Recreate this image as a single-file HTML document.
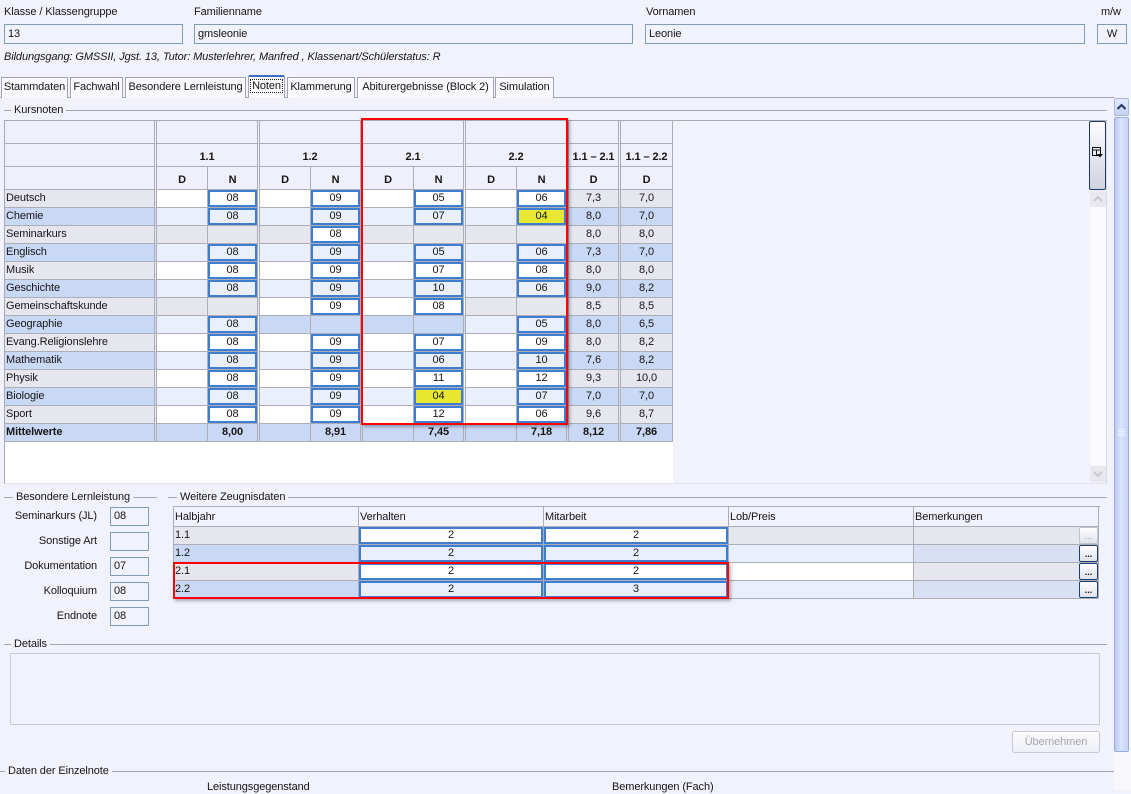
<!DOCTYPE html>
<html><head><meta charset="utf-8"><style>
*{box-sizing:border-box}
body{margin:0;width:1131px;height:790px;overflow:hidden;background:#f1f2fc;font-family:"Liberation Sans",sans-serif;font-size:11px;color:#161616;position:relative;letter-spacing:-0.1px}
.a{position:absolute;white-space:nowrap;line-height:14px}
.inp{position:absolute;border:1px solid #7f9db9;background:#f1f2fc;height:20px;line-height:18px;padding-left:3px;white-space:nowrap}
.tab{position:absolute;top:77px;height:21px;border:1px solid #a2a2b6;border-bottom:none;background:#f8f8fe;line-height:18px;text-align:center;box-shadow:inset 1px 1px 0 #fff;white-space:nowrap}
.hl{position:absolute;height:1px;background:#a4a4b4}
.gl{position:absolute;background:#f1f2fc;padding:0 3px;line-height:14px;white-space:nowrap}
.t{position:absolute;left:5px;top:121px;width:668px}
.hr{display:flex;height:23px}
.r{display:flex;height:18px}
.c{flex:none;height:100%;border-right:1px solid #adadb8;border-bottom:1px solid #adadb8;text-align:center;line-height:17px;white-space:nowrap;background:#eff0fb}
.hr .c{line-height:27px;font-weight:bold}
.d2{border-right:3px double #adadb8}
.n0{width:152px;text-align:left;padding-left:1px}
.D{width:51px}.N{width:52px}.G{width:103px}.A{width:52px}
.g{background:#e6e6ee}.b{background:#c9d9f5}.w{background:#fff}.l{background:#e9effd}
.x{display:block;height:17px;border:2px solid #3d7dd2;line-height:13px;text-align:center}
.y{background:#e8e832}
.mw .c{font-weight:bold;background:#c9d9f5}
.wz{position:absolute;left:173px;top:506px;border-left:1px solid #adadb8;width:927px}
.wr{display:flex;height:18px}
.wh{display:flex;height:21px;border-top:1px solid #adadb8}
.wc{flex:none;width:185px;height:100%;border-right:1px solid #adadb8;border-bottom:1px solid #adadb8;line-height:17px;padding-left:1px;position:relative;white-space:nowrap}
.wh .wc{line-height:20px}
.wb{display:block;height:17px;border:2px solid #3d7dd2;line-height:13px;text-align:center;margin-left:-1px}
.dots{position:absolute;right:0;top:0;width:19px;height:17px;border:1px solid #1f3d6e;border-radius:2px;background:linear-gradient(#ffffff,#dfe2ec);font-size:9px;line-height:16px;text-align:center;font-weight:bold;letter-spacing:0}
.dis{border-color:#c2c2cc;color:#a0a0a8;font-weight:normal}
</style></head><body>

<!-- top fields -->
<div class="a" style="left:4px;top:5px">Klasse / Klassengruppe</div>
<div class="inp" style="left:4px;top:24px;width:179px">13</div>
<div class="a" style="left:194px;top:5px">Familienname</div>
<div class="inp" style="left:194px;top:24px;width:439px">gmsleonie</div>
<div class="a" style="left:646px;top:5px">Vornamen</div>
<div class="inp" style="left:645px;top:24px;width:440px">Leonie</div>
<div class="a" style="left:1101px;top:5px">m/w</div>
<div class="inp" style="left:1097px;top:24px;width:30px;text-align:center;padding-left:0">W</div>
<div class="a" style="left:4px;top:50px;font-style:italic">Bildungsgang: GMSSII, Jgst. 13, Tutor: Musterlehrer, Manfred , Klassenart/Schülerstatus: R</div>

<!-- tabs -->
<div class="hl" style="left:0;top:97px;width:1114px"></div>
<div class="tab" style="left:1px;width:67px">Stammdaten</div>
<div class="tab" style="left:70px;width:53px">Fachwahl</div>
<div class="tab" style="left:125px;width:121px">Besondere Lernleistung</div>
<div class="tab" style="left:248px;width:37px;top:75px;height:23px;border-top:2px solid #3c6cc4;border-radius:2px 2px 0 0;background:#fbfbff;line-height:18px"><span style="outline:1px dotted #222;padding:0 1px">Noten</span></div>
<div class="tab" style="left:287px;width:68px">Klammerung</div>
<div class="tab" style="left:357px;width:137px">Abiturergebnisse (Block 2)</div>
<div class="tab" style="left:495px;width:59px">Simulation</div>

<!-- Kursnoten group -->
<div class="hl" style="left:4px;top:110px;width:1103px"></div>
<div class="gl" style="left:11px;top:103px">Kursnoten</div>

<!-- grid container -->
<div style="position:absolute;left:4px;top:120px;width:1103px;height:364px;border-top:1px solid #a8a8b6;border-left:1px solid #a8a8b6;border-right:1px solid #dcdce8;border-bottom:1px solid #e4e4f0;background:#f1f2fc"></div>
<div style="position:absolute;left:5px;top:121px;width:668px;height:362px;background:#fff"></div>

<div class="t">
 <div class="hr"><div class="c n0 d2"></div><div class="c G d2"></div><div class="c G d2"></div><div class="c G d2"></div><div class="c G d2"></div><div class="c A d2"></div><div class="c A"></div></div>
 <div class="hr"><div class="c n0 d2"></div><div class="c G d2">1.1</div><div class="c G d2">1.2</div><div class="c G d2">2.1</div><div class="c G d2">2.2</div><div class="c A d2">1.1 – 2.1</div><div class="c A">1.1 – 2.2</div></div>
 <div class="hr"><div class="c n0 d2"></div><div class="c D">D</div><div class="c N d2">N</div><div class="c D">D</div><div class="c N d2">N</div><div class="c D">D</div><div class="c N d2">N</div><div class="c D">D</div><div class="c N d2">N</div><div class="c A d2">D</div><div class="c A">D</div></div>

 <div class="r"><div class="c n0 d2 g">Deutsch</div><div class="c D w"></div><div class="c N d2 w"><span class="x w">08</span></div><div class="c D w"></div><div class="c N d2 w"><span class="x w">09</span></div><div class="c D w"></div><div class="c N d2 w"><span class="x w">05</span></div><div class="c D w"></div><div class="c N d2 w"><span class="x w">06</span></div><div class="c A d2 g">7,3</div><div class="c A g">7,0</div></div>
 <div class="r"><div class="c n0 d2 b">Chemie</div><div class="c D l"></div><div class="c N d2 l"><span class="x l">08</span></div><div class="c D l"></div><div class="c N d2 l"><span class="x l">09</span></div><div class="c D l"></div><div class="c N d2 l"><span class="x l">07</span></div><div class="c D l"></div><div class="c N d2 l"><span class="x y">04</span></div><div class="c A d2 b">8,0</div><div class="c A b">7,0</div></div>
 <div class="r"><div class="c n0 d2 g">Seminarkurs</div><div class="c D g"></div><div class="c N d2 g"></div><div class="c D g"></div><div class="c N d2 w"><span class="x w">08</span></div><div class="c D g"></div><div class="c N d2 g"></div><div class="c D g"></div><div class="c N d2 g"></div><div class="c A d2 g">8,0</div><div class="c A g">8,0</div></div>
 <div class="r"><div class="c n0 d2 b">Englisch</div><div class="c D l"></div><div class="c N d2 l"><span class="x l">08</span></div><div class="c D l"></div><div class="c N d2 l"><span class="x l">09</span></div><div class="c D l"></div><div class="c N d2 l"><span class="x l">05</span></div><div class="c D l"></div><div class="c N d2 l"><span class="x l">06</span></div><div class="c A d2 b">7,3</div><div class="c A b">7,0</div></div>
 <div class="r"><div class="c n0 d2 g">Musik</div><div class="c D w"></div><div class="c N d2 w"><span class="x w">08</span></div><div class="c D w"></div><div class="c N d2 w"><span class="x w">09</span></div><div class="c D w"></div><div class="c N d2 w"><span class="x w">07</span></div><div class="c D w"></div><div class="c N d2 w"><span class="x w">08</span></div><div class="c A d2 g">8,0</div><div class="c A g">8,0</div></div>
 <div class="r"><div class="c n0 d2 b">Geschichte</div><div class="c D l"></div><div class="c N d2 l"><span class="x l">08</span></div><div class="c D l"></div><div class="c N d2 l"><span class="x l">09</span></div><div class="c D l"></div><div class="c N d2 l"><span class="x l">10</span></div><div class="c D l"></div><div class="c N d2 l"><span class="x l">06</span></div><div class="c A d2 b">9,0</div><div class="c A b">8,2</div></div>
 <div class="r"><div class="c n0 d2 g">Gemeinschaftskunde</div><div class="c D g"></div><div class="c N d2 g"></div><div class="c D w"></div><div class="c N d2 w"><span class="x w">09</span></div><div class="c D w"></div><div class="c N d2 w"><span class="x w">08</span></div><div class="c D g"></div><div class="c N d2 g"></div><div class="c A d2 g">8,5</div><div class="c A g">8,5</div></div>
 <div class="r"><div class="c n0 d2 b">Geographie</div><div class="c D l"></div><div class="c N d2 l"><span class="x l">08</span></div><div class="c D b"></div><div class="c N d2 b"></div><div class="c D b"></div><div class="c N d2 b"></div><div class="c D l"></div><div class="c N d2 l"><span class="x l">05</span></div><div class="c A d2 b">8,0</div><div class="c A b">6,5</div></div>
 <div class="r"><div class="c n0 d2 g">Evang.Religionslehre</div><div class="c D w"></div><div class="c N d2 w"><span class="x w">08</span></div><div class="c D w"></div><div class="c N d2 w"><span class="x w">09</span></div><div class="c D w"></div><div class="c N d2 w"><span class="x w">07</span></div><div class="c D w"></div><div class="c N d2 w"><span class="x w">09</span></div><div class="c A d2 g">8,0</div><div class="c A g">8,2</div></div>
 <div class="r"><div class="c n0 d2 b">Mathematik</div><div class="c D l"></div><div class="c N d2 l"><span class="x l">08</span></div><div class="c D l"></div><div class="c N d2 l"><span class="x l">09</span></div><div class="c D l"></div><div class="c N d2 l"><span class="x l">06</span></div><div class="c D l"></div><div class="c N d2 l"><span class="x l">10</span></div><div class="c A d2 b">7,6</div><div class="c A b">8,2</div></div>
 <div class="r"><div class="c n0 d2 g">Physik</div><div class="c D w"></div><div class="c N d2 w"><span class="x w">08</span></div><div class="c D w"></div><div class="c N d2 w"><span class="x w">09</span></div><div class="c D w"></div><div class="c N d2 w"><span class="x w">11</span></div><div class="c D w"></div><div class="c N d2 w"><span class="x w">12</span></div><div class="c A d2 g">9,3</div><div class="c A g">10,0</div></div>
 <div class="r"><div class="c n0 d2 b">Biologie</div><div class="c D l"></div><div class="c N d2 l"><span class="x l">08</span></div><div class="c D l"></div><div class="c N d2 l"><span class="x l">09</span></div><div class="c D l"></div><div class="c N d2 l"><span class="x y">04</span></div><div class="c D l"></div><div class="c N d2 l"><span class="x l">07</span></div><div class="c A d2 b">7,0</div><div class="c A b">7,0</div></div>
 <div class="r"><div class="c n0 d2 g">Sport</div><div class="c D w"></div><div class="c N d2 w"><span class="x w">08</span></div><div class="c D w"></div><div class="c N d2 w"><span class="x w">09</span></div><div class="c D w"></div><div class="c N d2 w"><span class="x w">12</span></div><div class="c D w"></div><div class="c N d2 w"><span class="x w">06</span></div><div class="c A d2 g">9,6</div><div class="c A g">8,7</div></div>
 <div class="r mw"><div class="c n0 d2">Mittelwerte</div><div class="c D"></div><div class="c N d2">8,00</div><div class="c D"></div><div class="c N d2">8,91</div><div class="c D"></div><div class="c N d2">7,45</div><div class="c D"></div><div class="c N d2">7,18</div><div class="c A d2">8,12</div><div class="c A">7,86</div></div>
</div>

<!-- red rect 1 -->
<div style="position:absolute;left:361px;top:118px;width:207px;height:307px;border:2px solid #f00;box-shadow:2px 2px 3px rgba(0,0,0,.3)"></div>

<!-- inner scrollbar -->
<div style="position:absolute;left:1089px;top:121px;width:17px;height:69px;border:1px solid #1c3a68;border-radius:2px;background:linear-gradient(#fcfcff,#cfd3e0)"></div>
<svg style="position:absolute;left:1092px;top:147px" width="11" height="11" viewBox="0 0 11 11"><rect x="0.5" y="0.5" width="8" height="8" fill="none" stroke="#111"/><line x1="0.5" y1="3" x2="8.5" y2="3" stroke="#111"/><line x1="4.5" y1="3" x2="4.5" y2="8.5" stroke="#111"/><path d="M5 7 L11 7 L8 10.5 Z" fill="#111"/></svg>
<div style="position:absolute;left:1090px;top:191px;width:16px;height:16px;background:#e8e8ee"></div>
<svg style="position:absolute;left:1093px;top:195px" width="10" height="8"><path d="M1 6 L5 2 L9 6" fill="none" stroke="#c8c8d0" stroke-width="2"/></svg>
<div style="position:absolute;left:1090px;top:207px;width:16px;height:259px;background:#fafafe"></div>
<div style="position:absolute;left:1090px;top:466px;width:16px;height:16px;background:#e8e8ee"></div>
<svg style="position:absolute;left:1093px;top:470px" width="10" height="8"><path d="M1 2 L5 6 L9 2" fill="none" stroke="#c8c8d0" stroke-width="2"/></svg>

<!-- outer scrollbar -->
<div style="position:absolute;left:1114px;top:98px;width:17px;height:692px;background:#f8f8fc"></div>
<div style="position:absolute;left:1114px;top:98px;width:15px;height:18px;border:1px solid #a6b8e2;border-radius:2px;background:linear-gradient(#e4ebfc,#c4d3f4)"></div>
<svg style="position:absolute;left:1116px;top:103px" width="11" height="8"><path d="M1.5 6 L5.5 2 L9.5 6" fill="none" stroke="#23355e" stroke-width="2"/></svg>
<div style="position:absolute;left:1114px;top:117px;width:15px;height:635px;border:1px solid #98aedc;border-radius:2px;background:linear-gradient(to right,#b8caf0,#dae4fb 45%,#c6d5f5)"></div>
<div style="position:absolute;left:1118px;top:429px;width:7px;height:1px;background:#eef2fd;box-shadow:0 2px 0 #eef2fd,0 4px 0 #eef2fd,0 6px 0 #eef2fd"></div>

<!-- Besondere Lernleistung -->
<div class="hl" style="left:4px;top:497px;width:153px"></div>
<div class="gl" style="left:13px;top:490px">Besondere Lernleistung</div>
<div class="a" style="right:1034px;top:509px">Seminarkurs (JL)</div>
<div class="inp" style="left:110px;top:507px;width:39px;height:19px;line-height:17px">08</div>
<div class="a" style="right:1034px;top:534px">Sonstige Art</div>
<div class="inp" style="left:110px;top:532px;width:39px;height:19px"></div>
<div class="a" style="right:1034px;top:559px">Dokumentation</div>
<div class="inp" style="left:110px;top:557px;width:39px;height:19px;line-height:17px">07</div>
<div class="a" style="right:1034px;top:584px">Kolloquium</div>
<div class="inp" style="left:110px;top:582px;width:39px;height:19px;line-height:17px">08</div>
<div class="a" style="right:1034px;top:609px">Endnote</div>
<div class="inp" style="left:110px;top:607px;width:39px;height:19px;line-height:17px">08</div>

<!-- Weitere Zeugnisdaten -->
<div class="hl" style="left:168px;top:497px;width:939px"></div>
<div class="gl" style="left:177px;top:490px">Weitere Zeugnisdaten</div>
<div class="wz">
 <div class="wh"><div class="wc">Halbjahr</div><div class="wc">Verhalten</div><div class="wc">Mitarbeit</div><div class="wc">Lob/Preis</div><div class="wc">Bemerkungen</div></div>
 <div class="wr"><div class="wc g">1.1</div><div class="wc w"><span class="wb w">2</span></div><div class="wc w"><span class="wb w">2</span></div><div class="wc g"></div><div class="wc g"><span class="dots dis">...</span></div></div>
 <div class="wr"><div class="wc b">1.2</div><div class="wc l"><span class="wb l">2</span></div><div class="wc l"><span class="wb l">2</span></div><div class="wc l"></div><div class="wc" style="background:#d9e0f4"><span class="dots">...</span></div></div>
 <div class="wr"><div class="wc g">2.1</div><div class="wc w"><span class="wb w">2</span></div><div class="wc w"><span class="wb w">2</span></div><div class="wc w"></div><div class="wc g"><span class="dots">...</span></div></div>
 <div class="wr"><div class="wc b">2.2</div><div class="wc l"><span class="wb l">2</span></div><div class="wc l"><span class="wb l">3</span></div><div class="wc l"></div><div class="wc" style="background:#d9e0f4"><span class="dots">...</span></div></div>
</div>
<div style="position:absolute;left:173px;top:562px;width:556px;height:37px;border:2px solid #f00;box-shadow:2px 2px 3px rgba(0,0,0,.3)"></div>

<!-- Details -->
<div class="hl" style="left:4px;top:644px;width:1103px"></div>
<div class="gl" style="left:11px;top:637px">Details</div>
<div style="position:absolute;left:10px;top:653px;width:1090px;height:72px;border:1px solid #c8c8d6"></div>
<div style="position:absolute;left:1012px;top:731px;width:88px;height:22px;border:1px solid #c8c8d6;border-radius:3px;background:linear-gradient(#fcfcff,#eeeff7);color:#a4a4ac;text-align:center;line-height:20px">Übernehmen</div>

<!-- Daten der Einzelnote -->
<div class="hl" style="left:0;top:771px;width:1114px"></div>
<div class="gl" style="left:5px;top:764px">Daten der Einzelnote</div>
<div class="a" style="left:207px;top:780px">Leistungsgegenstand</div>
<div class="a" style="left:612px;top:780px">Bemerkungen (Fach)</div>
</body></html>
